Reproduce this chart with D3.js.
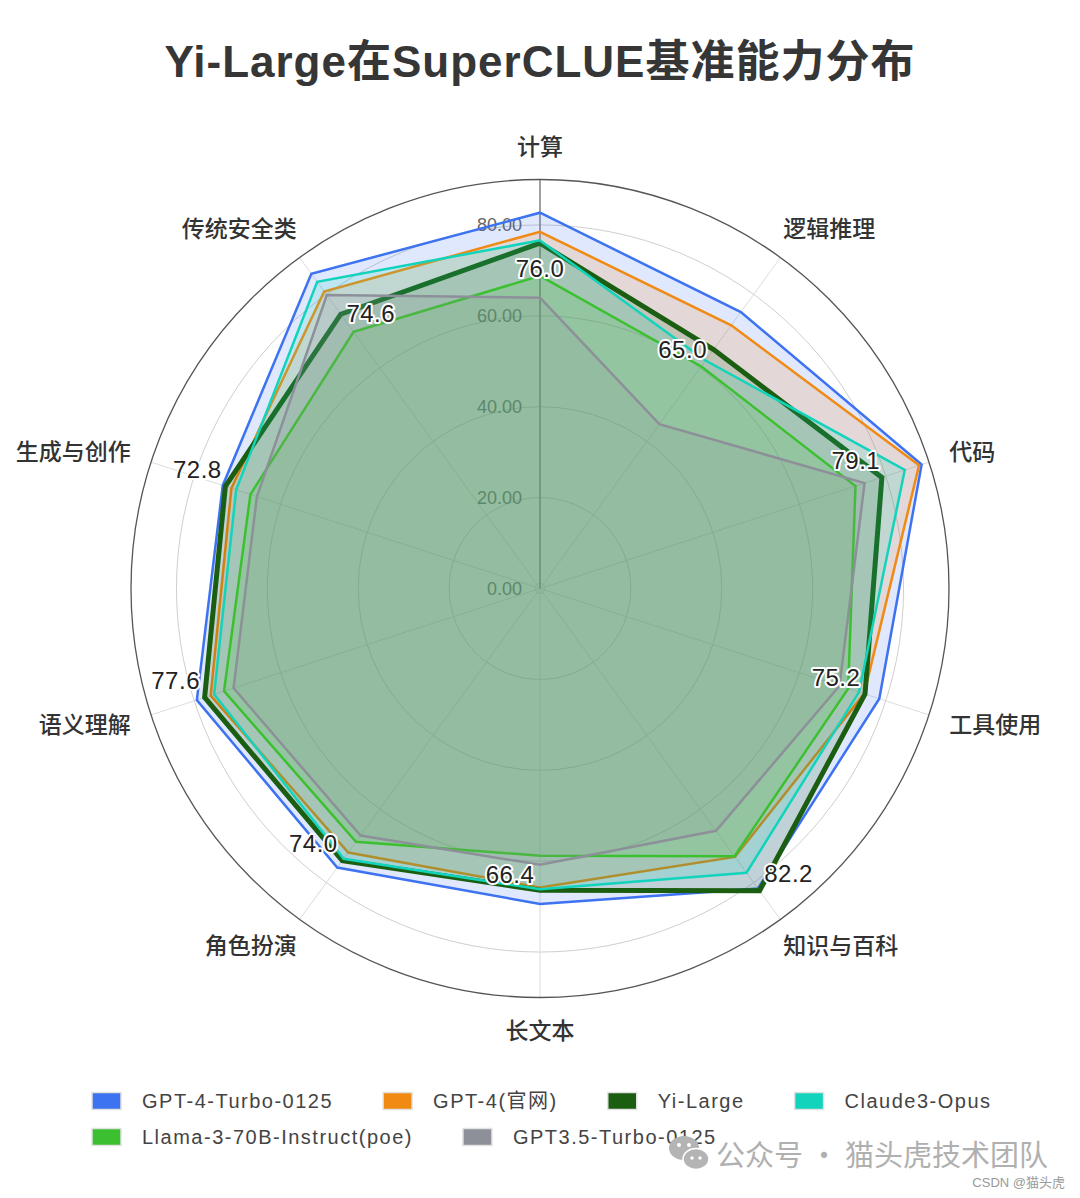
<!DOCTYPE html>
<html>
<head>
<meta charset="utf-8">
<script src="https://cdn.jsdelivr.net/npm/d3@7"></script>
<style>
  html, body { margin: 0; padding: 0; background: #fff; }
  svg { display: block; }
</style>
</head>
<body>
<div id="chart"></div>
<script>
// ---------- DATA ----------
const title = "Yi-Large在SuperCLUE基准能力分布";
const categories = ["计算", "逻辑推理", "代码", "工具使用", "知识与百科", "长文本", "角色扮演", "语义理解", "生成与创作", "传统安全类"];
const seriesNames = ["GPT-4-Turbo-0125", "GPT-4(官网)", "Yi-Large", "Claude3-Opus", "Llama-3-70B-Instruct(poe)", "GPT3.5-Turbo-0125"];
const gpt4Turbo = [82.7, 75.2, 88.3, 78.5, 81.6, 69.4, 75.9, 79.4, 73.4, 85.6];
const gpt4Official = [78.5, 71.6, 87.7, 75.0, 73.0, 65.8, 71.8, 76.2, 71.4, 80.8];
const yiLarge = [76.0, 65.0, 79.1, 75.2, 82.2, 66.4, 74.0, 77.6, 72.8, 74.6];
const claude3Opus = [76.6, 62.0, 84.4, 73.8, 77.3, 66.2, 73.5, 75.4, 70.3, 83.4];
const llama3 = [68.8, 60.4, 73.0, 71.3, 72.8, 58.8, 68.9, 73.1, 67.0, 69.8];
const gpt35Turbo = [64.0, 44.7, 75.1, 69.3, 65.9, 60.8, 67.2, 70.9, 65.5, 79.8];
const radiusTicks = [0, 20, 40, 60, 80];
const radiusMax = 90;
const labeledSeries = "Yi-Large";

// ---------- STYLE / LAYOUT ----------
const W = 1080, H = 1198;
const cx = 540, cy = 588.5, R = 409;
const colors = ["#3d72f0", "#f08a12", "#1b5e12", "#12d3bb", "#3cc030", "#8d9099"];
const lineWidths = [2.5, 2.5, 5, 2.5, 2.5, 2.5];
const fillOpacity = 0.16;
// offsets for the value labels of the highlighted series (layout only)
const valueLabelOffsets = [[0, 25], [-31, 0], [-26, -17], [-29, -17], [29, -17], [-30, -16], [-29, -17], [-29, -17], [-28, -17], [30, -1]];
const latin = "'Liberation Sans', Arial, 'Noto Sans CJK SC', sans-serif";

const allValues = [gpt4Turbo, gpt4Official, yiLarge, claude3Opus, llama3, gpt35Turbo];
const series = seriesNames.map((name, i) => ({ name, values: allValues[i], color: colors[i], width: lineWidths[i] }));

const svg = d3.select("#chart").append("svg")
  .attr("width", W).attr("height", H)
  .attr("viewBox", `0 0 ${W} ${H}`);
svg.append("rect").attr("width", W).attr("height", H).attr("fill", "#fff");

// title
svg.append("text")
  .attr("x", W / 2).attr("y", 77)
  .attr("text-anchor", "middle")
  .attr("font-family", latin)
  .attr("font-size", 44)
  .attr("font-weight", 600)
  .attr("letter-spacing", 1)
  .attr("fill", "#363636")
  .text(title);

const r = d3.scaleLinear().domain([0, radiusMax]).range([0, R]);
const n = categories.length;
const angle = d3.scaleLinear().domain([0, n]).range([0, 2 * Math.PI]);

const g = svg.append("g").attr("transform", `translate(${cx},${cy})`);

// grid rings
g.append("g").selectAll("circle").data(radiusTicks.slice(1)).join("circle")
  .attr("r", d => r(d))
  .attr("fill", "none").attr("stroke", "#cfcfcf").attr("stroke-width", 1);
g.append("circle").attr("r", 5).attr("fill", "none").attr("stroke", "#cfcfcf");

// spokes
g.append("g").selectAll("line").data(categories).join("line")
  .attr("x1", 0).attr("y1", 0)
  .attr("x2", (d, i) => Math.sin(angle(i)) * R)
  .attr("y2", (d, i) => -Math.cos(angle(i)) * R)
  .attr("stroke", "#dcdcdc").attr("stroke-width", 1);

// radius axis line (vertical)
g.append("line").attr("x1", 0).attr("y1", 0).attr("x2", 0).attr("y2", -R)
  .attr("stroke", "#555").attr("stroke-width", 1);

// outer circle
g.append("circle").attr("r", R).attr("fill", "none").attr("stroke", "#555").attr("stroke-width", 1.3);

// radius tick labels
g.append("g").selectAll("text").data(radiusTicks).join("text")
  .attr("x", -18).attr("y", d => -r(d))
  .attr("dy", "0.35em")
  .attr("text-anchor", "end")
  .attr("font-family", latin)
  .attr("font-size", 18)
  .attr("fill", "#666")
  .text(d => d3.format(".2f")(d));

// series
const line = d3.lineRadial()
  .angle((d, i) => angle(i))
  .radius(d => r(d))
  .curve(d3.curveLinearClosed);

series.forEach(s => {
  g.append("path")
    .attr("d", line(s.values))
    .attr("fill", s.color).attr("fill-opacity", fillOpacity)
    .attr("stroke", s.color).attr("stroke-width", s.width)
    .attr("stroke-linejoin", "miter");
});

// value labels for Yi-Large
const hs = series.find(s => s.name === labeledSeries);
g.append("g").selectAll("text").data(hs.values).join("text")
  .attr("x", (d, i) => Math.sin(angle(i)) * r(d) + valueLabelOffsets[i][0])
  .attr("y", (d, i) => -Math.cos(angle(i)) * r(d) + valueLabelOffsets[i][1])
  .attr("dy", "0.35em")
  .attr("text-anchor", "middle")
  .attr("font-family", latin)
  .attr("font-size", 24)
  .attr("letter-spacing", 0.5)
  .attr("fill", "#222")
  .attr("stroke", "#fff").attr("stroke-width", 4).attr("stroke-linejoin", "round")
  .attr("paint-order", "stroke")
  .text(d => d3.format(".1f")(d));

// category labels
g.append("g").selectAll("text").data(categories).join("text")
  .attr("x", (d, i) => {
    const s = Math.sin(angle(i));
    const base = s * (R + 15);
    if (Math.abs(s) < 0.01) return 0;
    return base + Math.sign(s) * (Math.abs(s) > 0.9 ? 6 : -6);
  })
  .attr("y", (d, i) => -Math.cos(angle(i)) * (R + 15) - 18 * Math.cos(angle(i)) - (Math.cos(angle(i)) > 0.5 && Math.cos(angle(i)) < 0.9 ? 2 : 0))
  .attr("dy", "0.35em")
  .attr("text-anchor", (d, i) => {
    const s = Math.sin(angle(i));
    return Math.abs(s) < 0.01 ? "middle" : (s > 0 ? "start" : "end");
  })
  .attr("font-family", "'Noto Sans CJK SC', sans-serif")
  .attr("font-size", 23)
  .attr("font-weight", 500)
  .attr("fill", "#333")
  .text(d => d);

// legend
const legend = svg.append("g");
let lx = 92, ly = 1101;
const legendStart = 92, legendMaxX = 1010, swW = 29, swH = 17, itemGap = 50;
series.forEach(s => {
  const item = legend.append("g");
  const t = item.append("text")
    .attr("font-family", latin)
    .attr("font-size", 20)
    .attr("letter-spacing", 1.5)
    .attr("fill", "#444")
    .attr("dy", "0.35em")
    .text(s.name);
  const tw = t.node().getComputedTextLength();
  const itemW = swW + 21 + tw;
  if (lx + itemW > legendMaxX) { lx = legendStart; ly += 36; }
  item.insert("rect", "text")
    .attr("x", lx).attr("y", ly - swH / 2)
    .attr("width", swW).attr("height", swH)
    .attr("fill", s.color).attr("stroke", "#e2e2e2").attr("stroke-width", 1.5);
  t.attr("x", lx + swW + 21).attr("y", ly);
  lx += itemW + itemGap;
});

// watermark
const wm = svg.append("g");
const ic = wm.append("g").attr("transform", "translate(688,1153)");
ic.append("ellipse").attr("cx", -4).attr("cy", -5).attr("rx", 15).attr("ry", 12).attr("fill", "#b4b4b4");
ic.append("ellipse").attr("cx", 8).attr("cy", 6).attr("rx", 13).attr("ry", 10.5).attr("fill", "#b4b4b4").attr("stroke", "#fff").attr("stroke-width", 1.5);
ic.append("circle").attr("cx", -9).attr("cy", -8).attr("r", 2).attr("fill", "#fff");
ic.append("circle").attr("cx", 1).attr("cy", -8).attr("r", 2).attr("fill", "#fff");
ic.append("circle").attr("cx", 4).attr("cy", 5).attr("r", 1.7).attr("fill", "#fff");
ic.append("circle").attr("cx", 12).attr("cy", 5).attr("r", 1.7).attr("fill", "#fff");
wm.append("text")
  .attr("x", 716).attr("y", 1156).attr("dy", "0.35em")
  .attr("font-family", "'Noto Sans CJK SC', sans-serif")
  .attr("font-size", 29)
  .attr("fill", "#b0b0b0")
  .text("公众号 · 猫头虎技术团队");
wm.append("text")
  .attr("x", 1065).attr("y", 1182).attr("dy", "0.35em")
  .attr("text-anchor", "end")
  .attr("font-family", latin)
  .attr("font-size", 13)
  .attr("fill", "#999")
  .text("CSDN @猫头虎");
</script>
</body>
</html>
